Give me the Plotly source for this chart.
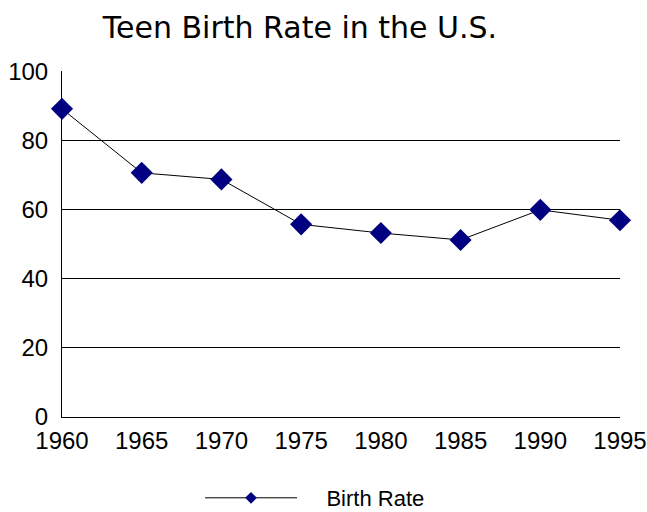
import plotly.graph_objects as go

years = [1960, 1965, 1970, 1975, 1980, 1985, 1990, 1995]
birth_rate = [89.1, 70.6, 68.7, 55.7, 53.2, 51.2, 59.9, 56.9]
y_ticks = [0, 20, 40, 60, 80, 100]
series_name = "Birth Rate"
title_text = "Teen Birth Rate in the U.S."

fig = go.Figure()
fig.add_trace(go.Scatter(
    x=years, y=birth_rate, name=series_name, mode="lines+markers",
    line=dict(color="black", width=1),
    marker=dict(symbol="diamond", size=17, color="#000080"),
    cliponaxis=False, showlegend=False,
))
# legend entry with a small marker, as in the reference
fig.add_trace(go.Scatter(
    x=[None], y=[None], name="\u00a0\u00a0\u00a0\u00a0" + series_name, mode="lines+markers",
    line=dict(color="black", width=1),
    marker=dict(symbol="diamond", size=9, color="#000080"),
    showlegend=True,
))

fig.update_layout(
    width=647, height=512,
    margin=dict(l=62, r=27, t=71, b=95, autoexpand=False),
    paper_bgcolor="white", plot_bgcolor="white",
    font=dict(family="Liberation Sans, Arial, sans-serif", size=24, color="black"),
    title=dict(text=title_text, x=300/647, xanchor="center", xref="container",
               y=1-27/512, yref="container", yanchor="middle",
               font=dict(family="DejaVu Sans, Verdana, sans-serif", size=30, color="black")),
    showlegend=True,
    legend=dict(orientation="h", x=200/647, xref="container", xanchor="left",
                y=(512-498)/512, yref="container", yanchor="middle",
                itemwidth=92, font=dict(size=22),
                bgcolor="rgba(0,0,0,0)"),
    xaxis=dict(range=[1960, 1995], tickvals=years, ticktext=[str(v) for v in years],
               showgrid=False, zeroline=False, showline=True, linecolor="black", linewidth=1,
               ticks="", ticklabelstandoff=2, automargin=False),
    yaxis=dict(range=[0, 100.05], tickvals=y_ticks, showgrid=True, gridcolor="black", gridwidth=1,
               zeroline=False, showline=True, linecolor="black", linewidth=1,
               ticks="", ticklabelstandoff=8, automargin=False),
)

fig.write_html("out.html", config={"displayModeBar": False},
               post_script="document.body.style.margin='0';")
